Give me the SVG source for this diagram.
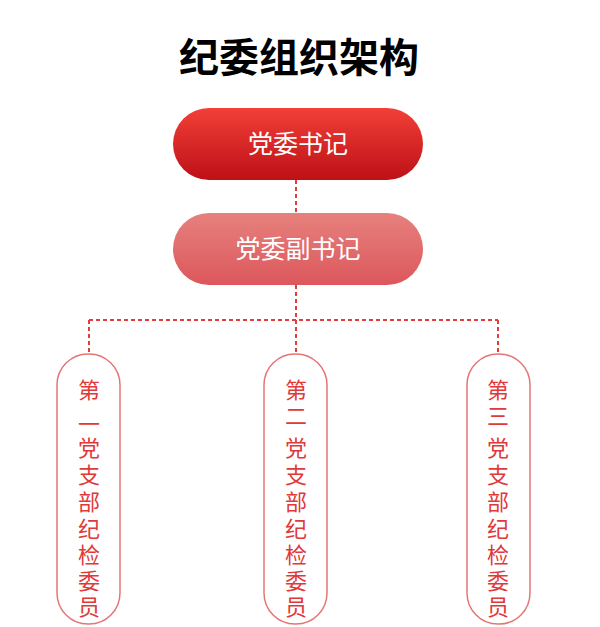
<svg xmlns="http://www.w3.org/2000/svg" width="600" height="627" viewBox="0 0 600 627">
<style>
.t{font-family:"Noto Sans CJK SC","Noto Sans",sans-serif;text-anchor:middle}
.w{fill:#fff;font-size:25px}
.v{fill:#e0393a;font-size:22px}
.vb{fill:#fff;stroke:#e47575;stroke-width:1.5}
.c{stroke:#e23c3c;stroke-width:2;stroke-dasharray:4 3;fill:none}
</style>
<defs>
<linearGradient id="g1" x1="0" y1="0" x2="0" y2="1"><stop offset="0" stop-color="#f23f37"/><stop offset="1" stop-color="#bd1117"/></linearGradient>
<linearGradient id="g2" x1="0" y1="0" x2="0" y2="1"><stop offset="0" stop-color="#e6817d"/><stop offset="1" stop-color="#dc575c"/></linearGradient>
</defs>
<text class="t" x="299" y="72" font-size="40" font-weight="bold" fill="#000">纪委组织架构</text>
<g id="connectors">
<path class="c" d="M296 180V213M296 285V320M89 320H498M89 320V354M296 320V354M498 320V354"/>
</g>
<g id="n1"><rect x="173" y="108" width="250" height="72" rx="36" fill="url(#g1)"/><text class="t w" x="298" y="153">党委书记</text></g>
<g id="n2"><rect x="173" y="213" width="250" height="72" rx="36" fill="url(#g2)"/><text class="t w" x="298" y="258">党委副书记</text></g>
<g id="b1"><rect class="vb" x="57" y="354" width="63" height="270" rx="31"/>
<text class="t v" x="89"><tspan x="89" y="398">第</tspan><tspan x="89" y="432">一</tspan><tspan x="89" y="456">党</tspan><tspan x="89" y="483">支</tspan><tspan x="89" y="510">部</tspan><tspan x="89" y="537">纪</tspan><tspan x="89" y="563">检</tspan><tspan x="89" y="589">委</tspan><tspan x="89" y="615">员</tspan></text></g>
<g id="b2"><rect class="vb" x="264" y="354" width="63" height="270" rx="31"/>
<text class="t v" x="296"><tspan x="296" y="398">第</tspan><tspan x="296" y="424">二</tspan><tspan x="296" y="456">党</tspan><tspan x="296" y="483">支</tspan><tspan x="296" y="510">部</tspan><tspan x="296" y="537">纪</tspan><tspan x="296" y="563">检</tspan><tspan x="296" y="589">委</tspan><tspan x="296" y="615">员</tspan></text></g>
<g id="b3"><rect class="vb" x="467" y="354" width="63" height="270" rx="31"/>
<text class="t v" x="498"><tspan x="498" y="398">第</tspan><tspan x="498" y="424">三</tspan><tspan x="498" y="456">党</tspan><tspan x="498" y="483">支</tspan><tspan x="498" y="510">部</tspan><tspan x="498" y="537">纪</tspan><tspan x="498" y="563">检</tspan><tspan x="498" y="589">委</tspan><tspan x="498" y="615">员</tspan></text></g>
</svg>
